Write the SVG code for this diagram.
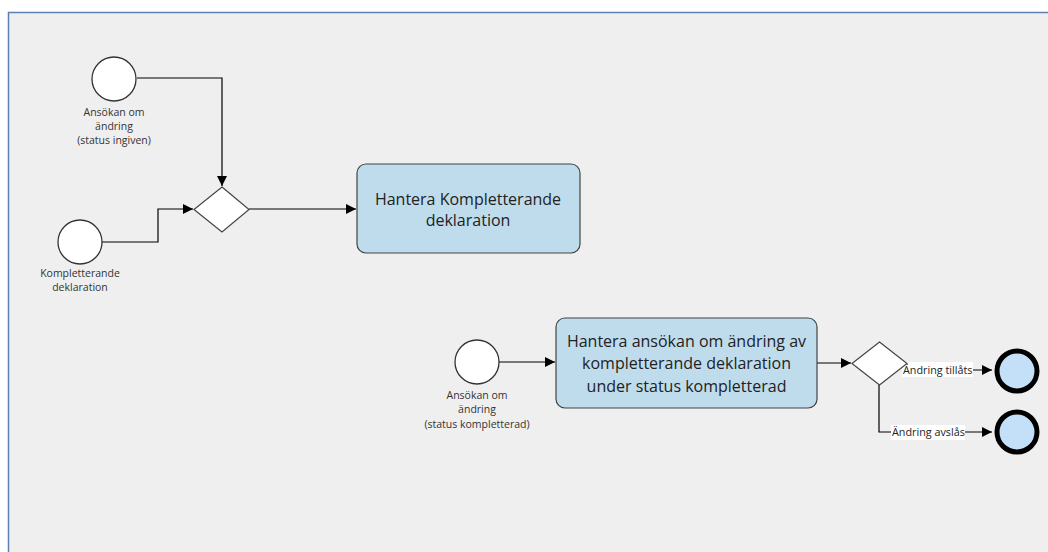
<svg xmlns="http://www.w3.org/2000/svg" width="1048" height="552" viewBox="0 0 1048 552">
<defs>
<marker id="arr" viewBox="0 0 10 10" refX="10" refY="5" markerWidth="14" markerHeight="10" markerUnits="userSpaceOnUse" orient="auto">
<path d="M0,0 L10,5 L0,10 z" fill="#000"/>
</marker>
<style>
.bg{fill:#efefef;stroke:#5b7fb0;stroke-width:1.5}
.start{fill:#fff;stroke:#333;stroke-width:1.3}
.end{fill:#c4dff8;stroke:#000;stroke-width:5}
.gw{fill:#fff;stroke:#444;stroke-width:1.2}
.task{fill:#bfdcec;stroke:#444;stroke-width:1.2}
.conn{fill:none;stroke:#000;stroke-width:1.2}
.lbl{font-family:"Open Sans","Noto Sans",sans-serif;font-size:10.5px;fill:#333;text-anchor:middle}
.tt{font-family:"Open Sans","Noto Sans",sans-serif;font-size:16px;fill:#222;text-anchor:middle}
.cl{font-family:"Open Sans","Noto Sans",sans-serif;font-size:10.8px;fill:#222}
</style>
</defs>
<rect x="0" y="0" width="1048" height="552" fill="#fff"/>
<rect class="bg" x="8.5" y="12.5" width="1050" height="550"/>
<g id="connectors">
<path class="conn" d="M137,78 H222 V186" marker-end="url(#arr)"/>
<path class="conn" d="M102,242 H158 V209 H193" marker-end="url(#arr)"/>
<path class="conn" d="M249,209 H356" marker-end="url(#arr)"/>
<path class="conn" d="M499,362 H555" marker-end="url(#arr)"/>
<path class="conn" d="M817,363 H851" marker-end="url(#arr)"/>
<path class="conn" d="M907,363 H935 V370 H992" marker-end="url(#arr)"/>
<path class="conn" d="M879,385 V432 H992" marker-end="url(#arr)"/>
<rect x="902" y="362" width="71" height="15" fill="#fff"/>
<text class="cl" x="903" y="374">Ändring tillåts</text>
<rect x="891" y="425" width="74" height="15" fill="#fff"/>
<text class="cl" x="892" y="436">Ändring avslås</text>
</g>
<g id="start1">
<circle class="start" cx="114" cy="79" r="22"/>
<text class="lbl" x="114" y="116">Ansökan om</text>
<text class="lbl" x="114" y="130">ändring</text>
<text class="lbl" x="114" y="144">(status ingiven)</text>
</g>
<g id="start2">
<circle class="start" cx="80" cy="242" r="22"/>
<text class="lbl" x="80" y="277">Kompletterande</text>
<text class="lbl" x="80" y="291">deklaration</text>
</g>
<g id="gateway1">
<polygon class="gw" points="222,187 249,209.5 222,232 194,209.5"/>
</g>
<g id="task1">
<rect class="task" x="357" y="164" width="223" height="89" rx="9"/>
<text class="tt" x="468" y="205">Hantera Kompletterande</text>
<text class="tt" x="468" y="226">deklaration</text>
</g>
<g id="start3">
<circle class="start" cx="477" cy="362" r="22"/>
<text class="lbl" x="477" y="399">Ansökan om</text>
<text class="lbl" x="477" y="413">ändring</text>
<text class="lbl" x="477" y="428">(status kompletterad)</text>
</g>
<g id="task2">
<rect class="task" x="556" y="318" width="261" height="90" rx="9"/>
<text class="tt" x="686.5" y="347">Hantera ansökan om ändring av</text>
<text class="tt" x="686.5" y="369">kompletterande deklaration</text>
<text class="tt" x="686.5" y="392">under status kompletterad</text>
</g>
<g id="gateway2">
<polygon class="gw" points="879.5,342 907,363.5 879.5,385 852,363.5"/>
</g>
<g id="end1">
<circle class="end" cx="1017" cy="371" r="20"/>
</g>
<g id="end2">
<circle class="end" cx="1017" cy="432" r="20"/>
</g>
</svg>
